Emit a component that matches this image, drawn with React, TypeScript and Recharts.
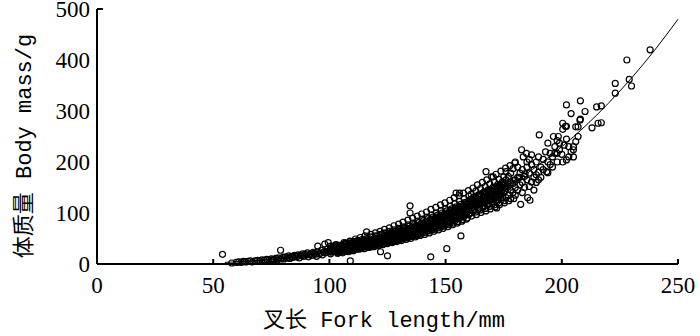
import { ComposedChart, Scatter, Line, XAxis, YAxis } from 'recharts';

// fork length (mm) vs body mass (g)
const samples: [number, number][] = [
  [54, 19], [58, 2], [60, 3], [61, 4], [62, 3], [63, 5], [64, 4], [65, 5], [66, 6], [67, 4],
  [68, 6], [69, 7], [70, 6], [71, 8], [72, 7], [73, 9], [74, 8], [75, 10], [75.5, 7],
  [76, 9], [77, 11], [77.5, 8], [78, 12], [79, 10], [79, 27], [80, 13], [80.5, 10], [81, 14],
  [82, 12], [82.5, 16], [83, 11], [84, 15], [84.5, 13], [85, 17], [86, 14], [86.5, 18], [87, 12],
  [88, 16], [88.5, 20], [89, 15], [90, 18], [90.5, 22], [91, 14], [92, 20], [92.5, 17], [93, 23],
  [94, 19], [94.5, 15], [95, 24], [95, 35], [96, 21], [96.5, 27], [97, 18], [98, 25], [98, 39],
  [98.5, 22], [99, 29], [99.5, 42], [100, 26], [100.5, 20], [101, 31], [101, 24], [102, 27], [102, 33],
  [83.5, 14], [85.5, 15], [87.5, 17], [89.5, 19], [91.5, 18], [93.5, 21], [95.5, 20], [97.5, 23], [99.5, 25],
  [103, 24], [103, 29], [103, 34], [103, 38], [104, 22], [104, 31], [104, 27],
  [105, 26], [105, 33], [105, 37], [105, 30], [106, 29], [106, 35], [106, 24],
  [107, 27], [107, 32], [107, 38], [107, 41], [108, 30], [108, 35], [108, 26],
  [109, 28], [109, 34], [109, 40], [109, 44], [109, 6], [110, 31], [110, 37], [110, 42], [110, 27],
  [111, 33], [111, 39], [111, 29], [112, 30], [112, 36], [112, 41], [112, 46],
  [113, 34], [113, 40], [113, 31], [114, 32], [114, 38], [114, 44], [114, 48],
  [115, 36], [115, 42], [115, 30], [116, 34], [116, 40], [116, 46], [116, 50], [116, 63],
  [117, 37], [117, 43], [117, 33], [118, 35], [118, 41], [118, 47], [118, 53],
  [119, 39], [119, 45], [119, 34], [120, 37], [120, 43], [120, 50], [120, 55],
  [121, 41], [121, 47], [121, 36], [122, 39], [122, 45], [122, 52], [122, 58], [122, 24],
  [123, 43], [123, 49], [123, 38], [124, 41], [124, 48], [124, 55], [124, 61],
  [125, 45], [125, 52], [125, 40], [125, 16], [126, 43], [126, 50], [126, 57], [126, 64],
  [127, 47], [127, 54], [127, 42], [128, 45], [128, 53], [128, 60], [128, 67],
  [129, 49], [129, 56], [129, 44], [130, 47], [130, 55], [130, 63], [130, 70],
  [131, 52], [131, 59], [131, 46], [132, 50], [132, 58], [132, 66], [132, 73],
  [133, 54], [133, 62], [133, 48], [134, 52], [134, 61], [134, 69], [134, 77],
  [135, 57], [135, 65], [135, 50], [134.7, 100], [134.7, 114],
  [136, 55], [136, 64], [136, 72], [136, 80], [137, 60], [137, 68], [137, 53],
  [138, 58], [138, 67], [138, 76], [138, 84], [139, 63], [139, 72], [139, 56],
  [140, 61], [140, 70], [140, 80], [140, 88], [141, 66], [141, 75], [141, 58],
  [142, 64], [142, 74], [142, 84], [142, 92], [143, 69], [143, 79], [143, 61],
  [144, 67], [144, 77], [144, 88], [144, 96], [143.6, 14], [145, 72], [145, 82], [145, 64],
  [146, 70], [146, 81], [146, 92], [146, 100], [147, 76], [147, 86], [147, 67],
  [148, 74], [148, 85], [148, 96], [148, 104], [149, 79], [149, 90], [149, 70],
  [150, 77], [150, 89], [150, 100], [150, 108], [150.5, 30], [151, 83], [151, 94], [151, 73],
  [152, 81], [152, 93], [152, 105], [152, 113], [153, 87], [153, 98], [153, 77],
  [154, 85], [154, 97], [154, 109], [154, 118], [154.5, 139], [155, 91], [155, 102], [155, 80], [156, 139],
  [156, 89], [156, 101], [156, 113], [156, 123], [156.6, 55], [157, 95], [157, 106], [157, 84],
  [158, 93], [158, 105], [158, 118], [158, 128], [159, 99], [159, 111], [159, 88],
  [160, 97], [160, 110], [160, 123], [160, 133],
  [100.5, 23], [100.5, 30], [100.5, 35], [101.5, 26], [101.5, 34], [101.5, 29], [102.5, 25], [102.5, 31], [102.5, 37],
  [103.5, 27], [103.5, 33], [103.5, 21], [104.5, 30], [104.5, 25], [104.5, 36], [105.5, 28], [105.5, 35], [105.5, 32],
  [106.5, 31], [106.5, 27], [106.5, 39], [107.5, 29], [107.5, 36], [107.5, 33], [108.5, 33], [108.5, 28], [108.5, 41],
  [109.5, 31], [109.5, 38], [109.5, 35], [110.5, 35], [110.5, 30], [110.5, 44], [111.5, 33], [111.5, 41], [111.5, 37],
  [112.5, 38], [112.5, 32], [112.5, 45], [113.5, 36], [113.5, 43], [113.5, 39], [114.5, 40], [114.5, 34], [114.5, 47],
  [115.5, 38], [115.5, 46], [115.5, 42], [116.5, 43], [116.5, 36], [116.5, 49], [117.5, 41], [117.5, 48], [117.5, 45],
  [118.5, 45], [118.5, 39], [118.5, 52], [119.5, 43], [119.5, 51], [119.5, 48], [120.5, 48], [120.5, 41], [120.5, 54],
  [121.5, 46], [121.5, 53], [121.5, 50], [122.5, 50], [122.5, 44], [122.5, 57], [123.5, 48], [123.5, 56], [123.5, 53],
  [124.5, 53], [124.5, 46], [124.5, 60], [125.5, 51], [125.5, 59], [125.5, 56], [126.5, 55], [126.5, 48], [126.5, 62],
  [127.5, 53], [127.5, 61], [127.5, 58], [128.5, 58], [128.5, 51], [128.5, 65], [129.5, 56], [129.5, 64], [129.5, 61],
  [130.5, 61], [130.5, 53], [130.5, 68], [131.5, 59], [131.5, 67], [131.5, 64], [132.5, 64], [132.5, 56], [132.5, 71],
  [133.5, 62], [133.5, 70], [133.5, 67], [134.5, 67], [134.5, 58], [134.5, 74], [135.5, 65], [135.5, 73], [135.5, 70],
  [136.5, 70], [136.5, 61], [136.5, 77], [137.5, 68], [137.5, 76], [137.5, 73], [138.5, 73], [138.5, 64], [138.5, 81],
  [139.5, 71], [139.5, 79], [139.5, 76], [140.5, 76], [140.5, 67], [140.5, 85], [141.5, 74], [141.5, 83], [141.5, 79],
  [142.5, 79], [142.5, 70], [142.5, 89], [143.5, 77], [143.5, 87], [143.5, 83], [144.5, 83], [144.5, 73], [144.5, 92],
  [145.5, 80], [145.5, 90], [145.5, 86], [146.5, 86], [146.5, 76], [146.5, 96], [147.5, 84], [147.5, 94], [147.5, 89],
  [148.5, 90], [148.5, 79], [148.5, 100], [149.5, 87], [149.5, 98], [149.5, 93], [150.5, 93], [150.5, 82], [150.5, 104],
  [151.5, 91], [151.5, 102], [151.5, 97], [152.5, 97], [152.5, 86], [152.5, 108], [153.5, 95], [153.5, 106], [153.5, 101],
  [154.5, 101], [154.5, 89], [154.5, 112], [155.5, 99], [155.5, 110], [155.5, 105], [156.5, 105], [156.5, 93], [156.5, 117],
  [157.5, 103], [157.5, 114], [157.5, 109], [158.5, 109], [158.5, 97], [158.5, 121], [159.5, 107], [159.5, 119], [159.5, 113],
  [160.5, 113], [160.5, 101], [160.5, 126], [161.5, 111], [161.5, 124], [161.5, 118], [162.5, 117], [162.5, 105], [162.5, 131],
  [163.5, 115], [163.5, 128], [163.5, 122], [164.5, 122], [164.5, 109], [164.5, 136], [165.5, 119], [165.5, 133], [165.5, 127],
  [166.5, 126], [166.5, 113], [166.5, 141], [167.5, 124], [167.5, 138], [167.5, 131], [168.5, 131], [168.5, 118], [168.5, 146],
  [169.5, 128], [169.5, 143], [169.5, 136], [170.5, 136], [170.5, 122], [170.5, 151], [171.5, 133], [171.5, 148], [171.5, 141],
  [172.5, 141], [172.5, 127], [172.5, 156], [173.5, 138], [173.5, 153], [173.5, 146], [174.5, 146], [174.5, 131], [174.5, 161],
  [175.5, 143], [175.5, 158], [175.5, 151],
  [105.7, 22], [106.3, 42], [108.2, 24], [108.8, 45], [110.3, 26], [111.2, 49], [112.7, 29], [113.3, 52],
  [114.8, 30], [115.3, 55], [117.2, 33], [117.8, 58], [119.3, 35], [119.8, 61], [121.2, 37], [121.8, 64],
  [123.3, 39], [123.7, 68], [125.2, 42], [125.8, 71], [127.3, 44], [127.8, 75], [129.2, 46], [129.8, 78],
  [131.3, 49], [131.7, 82], [133.2, 51], [133.8, 86], [135.3, 54], [135.8, 90], [137.2, 56], [137.8, 94],
  [139.3, 59], [139.7, 98], [141.2, 62], [141.8, 102], [143.3, 65], [143.7, 107], [145.2, 68], [145.8, 111],
  [147.3, 71], [147.8, 116], [149.2, 74], [149.7, 120], [151.3, 77], [151.8, 125], [153.2, 80], [153.7, 130],
  [155.3, 83], [155.8, 134], [157.2, 87], [157.7, 139], [159.3, 90], [159.8, 144], [161.2, 94], [161.8, 149],
  [163.3, 97], [163.7, 155], [165.2, 101], [165.8, 160], [167.3, 104], [167.7, 165], [169.2, 108], [169.8, 171],
  [171.3, 112], [171.7, 176], [173.2, 116], [173.8, 182], [175.3, 120], [175.8, 188], [177.2, 124], [177.7, 193],
  [179.3, 128], [179.8, 198],
  [104.2, 33], [106.8, 34], [109.2, 37], [111.7, 38], [114.2, 42], [116.7, 44], [119.2, 47], [121.7, 50],
  [124.2, 53], [126.7, 57], [129.2, 60], [131.7, 64], [134.2, 68], [136.7, 72], [139.2, 76], [141.7, 80],
  [144.2, 85], [146.7, 89], [149.2, 94], [151.7, 99], [154.2, 104], [156.7, 109], [159.2, 114], [161.7, 120],
  [164.2, 126], [166.7, 132], [169.2, 138], [171.7, 144], [174.2, 151], [176.7, 157], [179.2, 164], [181.7, 170],
  [184.2, 177],
  [161, 100], [161, 114], [161, 127], [161, 137], [162, 104], [162, 118], [162, 131],
  [163, 102], [163, 116], [163, 130], [163, 143], [164, 108], [164, 121], [164, 135],
  [165, 106], [165, 120], [165, 134], [165, 148], [166, 111], [166, 125], [166, 139],
  [167, 109], [167, 124], [167, 138], [167, 152], [167.4, 181], [168, 115], [168, 129], [168, 144],
  [169, 113], [169, 128], [169, 142], [169, 157], [170, 118], [170, 133], [170, 148], [170.5, 171],
  [171, 116], [171, 131], [171, 146], [171, 161], [172, 122], [172, 137], [172, 110], [172, 152],
  [173, 120], [173, 135], [173, 151], [173, 166], [174, 126], [174, 141], [174, 157],
  [175, 124], [175, 139], [175, 155], [175, 171],
  [176, 130], [176, 148], [176, 165], [176, 181], [177, 135], [177, 152], [177, 172],
  [178, 128], [178, 145], [178, 160], [178, 178], [179, 140], [179, 158], [179, 187],
  [180, 150], [180, 165], [180, 200], [180, 135], [181, 145], [181, 170], [181, 190],
  [182, 155], [182.3, 117], [182.7, 224], [182, 178], [183, 160], [183, 185], [183.4, 210], [183, 140],
  [184, 150], [184, 172], [184.8, 217], [185, 200], [185.3, 130], [185, 165], [185, 190],
  [186.3, 125], [186, 152], [186, 178], [186, 205], [187, 161], [187, 195], [187, 214],
  [188, 145], [188, 170], [188, 185], [189, 175], [189, 200], [189, 160],
  [190, 180], [190, 210], [190.3, 253], [190, 165],
  [191, 190], [191, 170], [192, 205], [192, 185], [193.5, 181], [193, 220],
  [194, 179], [194, 237], [194, 200], [195, 217], [195, 195],
  [196.4, 250], [196, 210], [196, 190], [197, 217], [197, 230],
  [198.5, 250], [198, 217], [198, 200], [198, 242], [199, 237], [199, 224],
  [200.4, 200], [200.4, 264], [200.4, 276], [200, 215], [201, 233], [201.6, 270],
  [202, 312], [202, 270], [202, 204], [202, 245], [203, 230], [203, 210],
  [204, 295], [204, 220], [205, 224], [205, 230], [205, 210],
  [206, 269], [206, 240], [207, 269], [207.8, 282], [207, 250], [208, 284], [208, 320],
  [210, 299], [213, 267], [215, 308], [215.6, 276], [217, 310], [217, 277],
  [223, 354], [223, 335], [228, 400], [229, 362], [230, 349], [238, 420],
];

// fitted length-weight curve, read at 10 mm steps
const curveLength = [55, 60, 70, 80, 90, 100, 110, 120, 130, 140, 150, 160, 170, 180, 190, 200, 210, 220, 230, 240, 250];
const curveMass = [3.2, 4.3, 7.2, 11.2, 16.5, 23.3, 32, 42.6, 55.5, 70.9, 89, 110, 134.4, 162.3, 194, 230, 270, 315, 364.6, 419.5, 480];

const xTicks = [0, 50, 100, 150, 200, 250];
const yTicks = [0, 100, 200, 300, 400, 500];

const points = samples.map(([x, y]) => ({ x, y }));
const curve = curveLength.map((x, i) => ({ x, y: curveMass[i] }));

const tickFont = '"Liberation Serif", "Times New Roman", serif';
const titleFont = '"Liberation Mono", "Noto Sans CJK SC", monospace';

const XTick = ({ x, y, payload }: any) => (
  <g>
    {payload.value !== 0 && <line x1={x} y1={y} x2={x} y2={y - 5} stroke="#000" strokeWidth={2} />}
    <text x={x} y={y + 29} textAnchor="middle" fontFamily={tickFont} fontSize={23} fill="#000">
      {payload.value}
    </text>
  </g>
);

const YTick = ({ x, y, payload }: any) => (
  <g>
    {payload.value === 500 && <line x1={x} y1={y} x2={x + 6} y2={y} stroke="#000" strokeWidth={2} />}
    <text x={x - 7} y={y + 8} textAnchor="end" fontFamily={tickFont} fontSize={23} fill="#000">
      {payload.value}
    </text>
  </g>
);

const Dot = ({ cx, cy }: any) => (
  <circle cx={cx} cy={cy} r={3} fill="none" stroke="#000" strokeWidth={1.2} />
);

export default function App() {
  return (
    <div style={{ position: 'absolute', left: 0, top: 0, background: '#fff' }}>
      <ComposedChart width={700} height={336} margin={{ top: 9, right: 22, left: 0, bottom: 0 }}>
        <XAxis
          type="number"
          dataKey="x"
          domain={[0, 250]}
          ticks={xTicks}
          height={72}
          tickSize={0}
          tickMargin={0}
          tick={<XTick />}
          axisLine={{ stroke: '#000', strokeWidth: 2 }}
          label={{
            content: () => (
              <text x={384} y={327} textAnchor="middle" fontFamily={titleFont} fontSize={22} fill="#000">
                叉长 Fork length/mm
              </text>
            ),
          }}
        />
        <YAxis
          type="number"
          dataKey="y"
          domain={[0, 500]}
          ticks={yTicks}
          width={97}
          tickSize={0}
          tickMargin={0}
          tick={<YTick />}
          axisLine={{ stroke: '#000', strokeWidth: 2 }}
          label={{
            content: () => (
              <text
                x={25}
                y={146}
                transform="rotate(-90 25 146)"
                textAnchor="middle"
                dominantBaseline="central"
                fontFamily={titleFont}
                fontSize={22}
                fill="#000"
              >
                体质量 Body mass/g
              </text>
            ),
          }}
        />
        <Scatter data={points} dataKey="y" shape={<Dot />} isAnimationActive={false} />
        <Line
          data={curve}
          dataKey="y"
          type="monotone"
          stroke="#000"
          strokeWidth={1}
          dot={false}
          activeDot={false}
          isAnimationActive={false}
        />
      </ComposedChart>
    </div>
  );
}
